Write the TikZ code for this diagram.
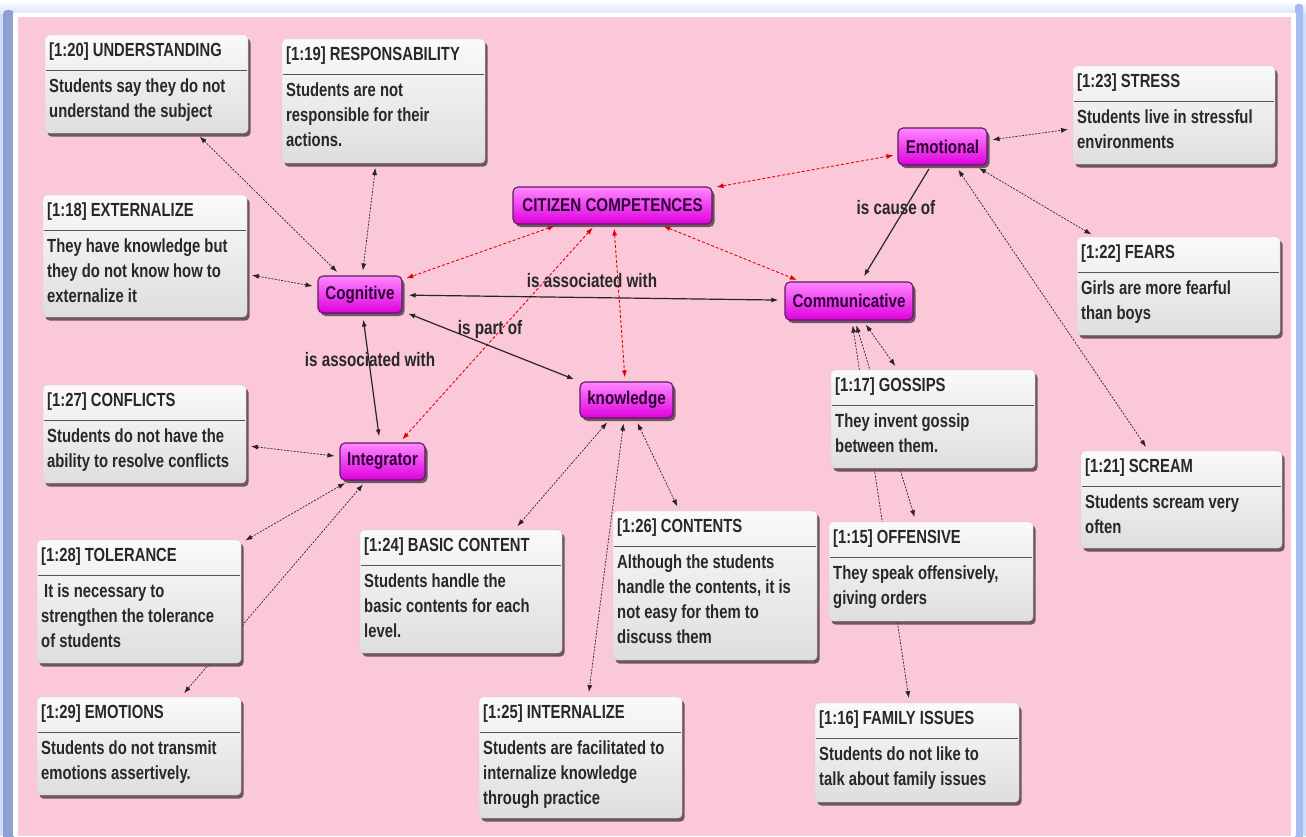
\documentclass[tikz,border=0pt]{standalone}
\usepackage{fontspec}
\setmainfont{Liberation Sans}[FakeStretch=0.82]
\newfontfamily\boxfont{Liberation Sans Bold}[FakeStretch=0.78]
\newfontfamily\concfont{Liberation Sans Bold}[FakeStretch=0.82]
\usetikzlibrary{arrows.meta,shadows}
\pgfdeclarelayer{bg}
\pgfdeclarelayer{edges}
\pgfsetlayers{bg,edges,main}
\definecolor{pinkbg}{RGB}{250,200,216}
\definecolor{framebl}{RGB}{140,160,210}
\definecolor{lightbl}{RGB}{205,222,250}
\definecolor{rightbl}{RGB}{165,190,242}
\definecolor{magtop}{RGB}{255,135,255}
\definecolor{magbot}{RGB}{222,0,222}
\definecolor{magdraw}{RGB}{95,25,95}
\definecolor{txt}{RGB}{40,40,40}
\definecolor{ctxt}{RGB}{45,0,55}
\definecolor{shad}{RGB}{85,65,80}
\definecolor{sepcol}{RGB}{85,85,85}
\definecolor{boxtop}{RGB}{250,250,250}
\definecolor{boxbot}{RGB}{222,222,222}
\tikzset{
  cbox/.style={draw=gray!35, line width=0.4pt, rounded corners=4pt, top color=boxtop, bottom color=boxbot,
    inner sep=0pt, outer sep=0pt,
    drop shadow={shadow xshift=2.5pt, shadow yshift=-3.5pt, fill=shad, opacity=0.85}},
  ctitle/.style={inner sep=0pt, font=\boxfont\fontsize{19}{25}\selectfont, text=txt},
  cbody/.style={inner sep=0pt, font=\boxfont\fontsize{19}{25}\selectfont, text=txt},
  concept/.style={draw=magdraw, line width=1.1pt, rounded corners=5pt, top color=magtop, bottom color=magbot,
    inner sep=0pt, minimum height=37pt, text=ctxt, font=\concfont\fontsize{18.5}{22}\selectfont,
    drop shadow={shadow xshift=2.5pt, shadow yshift=-3pt, fill=shad, opacity=0.85}},
  lbl/.style={inner sep=0pt, text=txt, font=\boxfont\fontsize{19.5}{24}\selectfont},
  tip/.tip={Latex[length=7pt,width=5pt]},
  dlink/.style={black!85, line width=0.7pt, dash pattern=on 2pt off 1.3pt, tip-tip, shorten <=5pt, shorten >=5pt},
  rlink/.style={red!90!black, line width=0.9pt, dash pattern=on 3pt off 2pt, tip-tip, shorten <=4pt, shorten >=4pt},
  slink/.style={black!85, line width=1.2pt, tip-tip, shorten <=6pt, shorten >=6pt},
  slinkone/.style={black!85, line width=1.2pt, -tip, shorten <=4pt, shorten >=6pt},
}
\newcommand{\lx}[1]{\hbox{#1}}
% name, L, T, R, B, title, body
\newcommand{\cbox}[7]{%
  \node[cbox, anchor=north west, minimum width={(#4-#2)*1pt}, minimum height={(#5-#3)*1pt}] (#1) at (#2,#3) {};
  \draw[sepcol, line width=1.6pt] (#2+1,#3+35.5) -- (#4-1,#3+35.5);
  \node[ctitle, anchor=base west] at (#2+4,#3+21) {#6};
  \node[cbody, anchor=base west] at (#2+4,#3+57.5) {\vtop{\baselineskip=25pt\lineskiplimit=-20pt #7}};
}
\begin{document}
\begin{tikzpicture}[x=1pt,y=-1pt]
\useasboundingbox (0,0) rectangle (1306,836);
\begin{pgfonlayer}{bg}
  \fill[white] (0,0) rectangle (1306,836);
  \shade[top color=white, bottom color=lightbl] (0,0) rectangle (1306,18);
  \fill[lightbl] (0,14) rectangle (1306,836);
  \fill[framebl, rounded corners=4pt] (3,10) rectangle (14,850);
  \fill[rightbl, rounded corners=3pt] (1295,4) rectangle (1303,850);
  \fill[white] (13,13) rectangle (1296,836);
  \fill[pinkbg] (18,17) rectangle (1291,836);
\end{pgfonlayer}

% concepts
\node[concept, minimum width=84pt] (cog) at (360,294.5) {Cognitive};
\node[concept, minimum width=85pt] (int) at (382.5,461.5) {Integrator};
\node[concept, minimum width=93pt, minimum height=36pt] (know) at (626.5,400) {knowledge};
\node[concept, minimum width=199pt] (cit) at (612.5,205.5) {CITIZEN COMPETENCES};
\node[concept, minimum width=128pt, minimum height=38pt] (com) at (849,301) {Communicative};
\node[concept, minimum width=89pt] (emo) at (942.5,146.5) {Emotional};

% comment boxes
\cbox{u20}{45}{35}{248}{133}{[1:20] UNDERSTANDING}{\lx{Students say they do not}\lx{understand the subject}}
\cbox{u19}{282}{39}{485}{163}{[1:19] RESPONSABILITY}{\lx{Students are not}\lx{responsible for their}\lx{actions.}}
\cbox{u18}{43}{195}{247}{317}{[1:18] EXTERNALIZE}{\lx{They have knowledge but}\lx{they do not know how to}\lx{externalize it}}
\cbox{u27}{43}{385}{246}{483}{[1:27] CONFLICTS}{\lx{Students do not have the}\lx{ability to resolve conflicts}}
\cbox{u28}{37}{540}{241}{663}{[1:28] TOLERANCE}{\lx{\hspace{3pt}It is necessary to}\lx{strengthen the tolerance}\lx{of students}}
\cbox{u29}{37}{697}{241}{795}{[1:29] EMOTIONS}{\lx{Students do not transmit}\lx{emotions assertively.}}
\cbox{u24}{360}{530}{562}{653}{[1:24] BASIC CONTENT}{\lx{Students handle the}\lx{basic contents for each}\lx{level.}}
\cbox{u26}{613}{511}{817}{660}{[1:26] CONTENTS}{\lx{Although the students}\lx{handle the contents, it is}\lx{not easy for them to}\lx{discuss them}}
\cbox{u25}{479}{697}{682}{818}{[1:25] INTERNALIZE}{\lx{Students are facilitated to}\lx{internalize knowledge}\lx{through practice}}
\cbox{u17}{831}{370}{1035}{468}{[1:17] GOSSIPS}{\lx{They invent gossip}\lx{between them.}}
\cbox{u15}{829}{522}{1033}{621}{[1:15] OFFENSIVE}{\lx{They speak offensively,}\lx{giving orders}}
\cbox{u16}{815}{703}{1019}{802}{[1:16] FAMILY ISSUES}{\lx{Students do not like to}\lx{talk about family issues}}
\cbox{u23}{1073}{66}{1275}{164}{[1:23] STRESS}{\lx{Students live in stressful}\lx{environments}}
\cbox{u22}{1077}{237}{1280}{335}{[1:22] FEARS}{\lx{Girls are more fearful}\lx{than boys}}
\cbox{u21}{1081}{451}{1282}{548}{[1:21] SCREAM}{\lx{Students scream very}\lx{often}}

% labels
\node[lbl] (l1) at (592,281) {is associated with};
\node[lbl] (l2) at (490,329) {is part of};
\node[lbl] (l3) at (370,360) {is associated with};
\node[lbl] (l4) at (896,208) {is cause of};

\begin{pgfonlayer}{edges}
  \draw[dlink] (u20) -- (cog);
  \draw[dlink] (u19) -- (cog);
  \draw[dlink] (u18) -- (cog);
  \draw[dlink] (u27) -- (int);
  \draw[dlink] (u28) -- (int);
  \draw[dlink] (u29) -- (int);
  \draw[dlink] (know) -- (u24);
  \draw[dlink] (know) -- (u25);
  \draw[dlink] (know) -- (u26);
  \draw[dlink] (com) -- (u17);
  \draw[dlink] (com) -- (u15);
  \draw[dlink] (com) -- (u16);
  \draw[dlink] (emo) -- (u23);
  \draw[dlink] (emo) -- (u22);
  \draw[dlink] (emo) -- (u21);
  \draw[rlink] (cit) -- (emo);
  \draw[rlink] (cit) -- (cog);
  \draw[rlink] (cit) -- (int);
  \draw[rlink] (cit) -- (know);
  \draw[rlink] (cit) -- (com);
  \draw[slink] (cog) -- (com);
  \draw[slink] (cog) -- (know);
  \draw[slink] (cog) -- (int);
  \draw[slinkone] (emo) -- (com);
\end{pgfonlayer}
\end{tikzpicture}
\end{document}
